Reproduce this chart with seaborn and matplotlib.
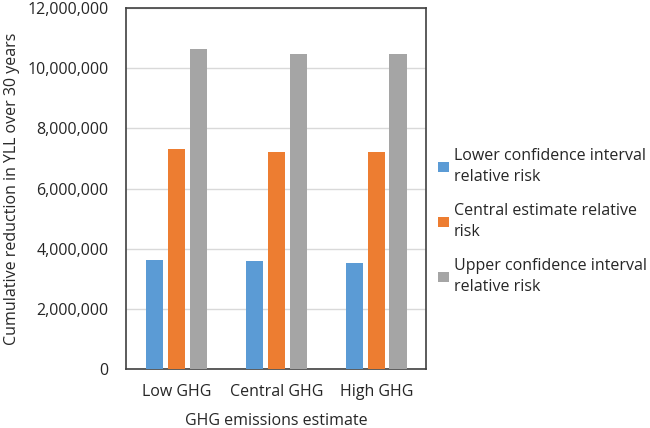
import matplotlib
matplotlib.use("Agg")
import matplotlib.pyplot as plt
import matplotlib.ticker as mticker
import pandas as pd
import seaborn as sns

# Data
scenarios = ["Low GHG", "Central GHG", "High GHG"]
series = ["Lower confidence interval\nrelative risk",
          "Central estimate relative\nrisk",
          "Upper confidence interval\nrelative risk"]
lower_ci = [3620000, 3580000, 3530000]
central = [7310000, 7210000, 7210000]
upper_ci = [10630000, 10470000, 10470000]
colors = ["#5B9BD5", "#ED7D31", "#A5A5A5"]

df = pd.DataFrame({
    "scenario": scenarios * 3,
    "series": [series[0]] * 3 + [series[1]] * 3 + [series[2]] * 3,
    "value": lower_ci + central + upper_ci,
})

sns.set_style("white")
plt.rcParams["font.family"] = ["Open Sans", "DejaVu Sans"]

fig = plt.figure(figsize=(6.5, 4.28), dpi=100)
ax = fig.add_axes([0.1946, 0.138, 0.461, 0.843])

sns.barplot(data=df, x="scenario", y="value", hue="series", order=scenarios,
            hue_order=series, palette=colors, width=0.66, gap=0.21,
            saturation=1, linewidth=0, ax=ax, zorder=3)

ax.set_ylim(0, 12000000)
ax.yaxis.set_major_locator(mticker.MultipleLocator(2000000))
ax.yaxis.set_major_formatter(mticker.FuncFormatter(lambda v, p: f"{int(v):,}"))
ax.grid(axis="y", color="#d9d9d9", linewidth=1, zorder=0)
ax.set_axisbelow(True)
for s in ax.spines.values():
    s.set_color("#404040")
    s.set_linewidth(1.2)

ax.tick_params(axis="y", length=0, labelsize=11.5, colors="#262626", pad=13)
ax.tick_params(axis="x", length=0, labelsize=11.5, colors="#262626", pad=11)
ax.set_xlabel("GHG emissions estimate", fontsize=11.5, color="#262626", labelpad=9)
ax.set_ylabel("Cumulative reduction in YLL over 30 years", fontsize=11.5,
              color="#262626")
ax.yaxis.set_label_coords(-0.355, 0.5)

leg = ax.legend(loc="upper left", bbox_to_anchor=(1.018, 0.63), frameon=False,
                fontsize=11.5, handlelength=0.7, handleheight=0.65,
                handletextpad=0.3, labelspacing=1.1, borderaxespad=0)
for t in leg.get_texts():
    t.set_color("#262626")
    t.set_linespacing(1.45)

fig.savefig("out.png", dpi=100)
